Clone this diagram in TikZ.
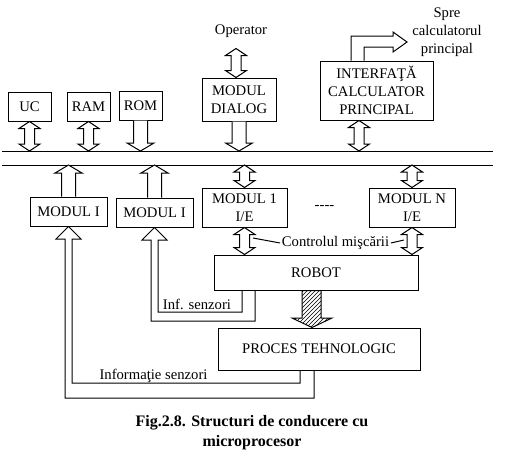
\documentclass[tikz,border=0pt]{standalone}
\usepackage{fontspec}
\setmainfont{Liberation Serif}
\usetikzlibrary{calc,patterns}

\tikzset{blk/.style={draw,fill=white}}
% hollow double arrow, from top point to bottom point
\newcommand\dblarr[2]{%
 \draw[blk] let \p1=#1, \p2=#2 in
  (\x1,\y1) -- (\x1+7.9pt,\y1-5.25pt) -- (\x1+3.75pt,\y1-5.25pt)
  -- (\x1+3.75pt,\y2+5.25pt) -- (\x1+7.9pt,\y2+5.25pt) -- (\x1,\y2)
  -- (\x1-7.9pt,\y2+5.25pt) -- (\x1-3.75pt,\y2+5.25pt)
  -- (\x1-3.75pt,\y1-5.25pt) -- (\x1-7.9pt,\y1-5.25pt) -- cycle;}
% hollow single arrow, from tail to tip
\newcommand\blkarr[2]{%
 \draw[blk] let \p1=#1, \p2=#2, \n1={(\y2>\y1)*2-1} in
  (\x1-5.25pt,\y1) -- (\x1-5.25pt,\y2-\n1*6pt) -- (\x1-10.1pt,\y2-\n1*6pt)
  -- (\x1,\y2) -- (\x1+10.1pt,\y2-\n1*6pt) -- (\x1+5.25pt,\y2-\n1*6pt)
  -- (\x1+5.25pt,\y1);}

\begin{document}
\begin{tikzpicture}[x=0.75pt,y=-0.75pt,line width=0.75pt,
 font=\fontsize{11}{13.5}\selectfont,
 box/.style={draw,inner sep=1pt,align=center},
 sz/.style 2 args={minimum width=#1*0.75pt,minimum height=#2*0.75pt}]
\useasboundingbox (0,0) rectangle (508,462);
\node[box,sz={43}{29}] (uc) at (29.5,106.5) {UC};
\node[box,sz={43}{29}] (ram) at (88.5,106.5) {RAM};
\node[box,sz={43}{29}] (rom) at (140.5,105.5) {ROM};
\node[box,sz={74}{43}] (dialog) at (239,99.5) {MODUL\\DIALOG};
\node[box,sz={113}{59}] (interf) at (376.5,90.5) {INTERFAŢĂ\\CALCULATOR\\PRINCIPAL};
\node[box,sz={77}{29}] (modI1) at (68.5,211.5) {MODUL I};
\node[box,sz={77}{29}] (modI2) at (154.5,212.5) {MODUL I};
\node[box,sz={85}{39}] (mod1) at (244.5,207.5) {MODUL 1\\I/E};
\node[box,sz={86}{39}] (modN) at (412,207.5) {MODUL N\\I/E};
\node[box,sz={204}{35}] (robot) at (316,272.5) {ROBOT};
\node[box,sz={202}{42}] (proces) at (319,349) {PROCES TEHNOLOGIC};
\node (op) at (241,31) {Operator};
\node[align=center] (spre) at (447,32) {Spre\\calculatorul\\principal};
\node (dots) at (324.5,207) {-{}-{}-{}-};
\node[inner sep=1pt] (ctrl) at (335.5,243) {Controlul mişcării};
\node (infs) at (197,304) {Inf. senzori};
\node (infos) at (153.5,376) {Informaţie senzori};
\node[font=\bfseries\fontsize{12}{14.5}\selectfont,align=center] (cap) at (252,432.5)
 {Fig.2.8. Structuri de conducere cu\\microprocesor};
% bus
\coordinate (busTl) at (2,151);
\coordinate (busTr) at (493,151);
\coordinate (busBl) at (2,165);
\coordinate (busBr) at (493,165);
\draw (busTl) -- (busTr);
\draw (busBl) -- (busBr);
% block arrows
\dblarr{(uc.south)}{(uc.south |- busTl)}
\dblarr{(ram.south)}{(ram.south |- busTl)}
\blkarr{(rom.south)}{(rom.south |- busTl)}
\blkarr{(dialog.south)}{(dialog.south |- busTl)}
\dblarr{($(dialog.north)+(-3,-29)$)}{($(dialog.north)+(-3,0)$)}
\dblarr{(359,0 |- interf.south)}{(359,0 |- busTl)}
\blkarr{(modI1.north)}{(modI1.north |- busBl)}
\blkarr{(modI2.north)}{(modI2.north |- busBl)}
\dblarr{(mod1.north |- busBl)}{(mod1.north)}
\dblarr{(modN.north |- busBl)}{(modN.north)}
\dblarr{(mod1.south)}{(mod1.south |- robot.north)}
\dblarr{(modN.south)}{(modN.south |- robot.north)}
\draw (351,0 |- interf.north) -- (351,36) -- (393,36) -- (393,32) -- (407,42)
 -- (393,52) -- (393,47) -- (364,47) -- (364,0 |- interf.north);
\draw[pattern=north east lines] (302,0 |- robot.south) -- (302,318) -- (292,318)
 -- (312,0 |- proces.north) -- (332,318) -- (321,318) -- (321,0 |- robot.south) -- cycle;
% sensor feedback
\draw (242,0 |- robot.south) -- (242,312) -- (158,312) -- (158,240) -- (167,240)
 -- (154.5,0 |- modI2.south) -- (142,240) -- (151,240) -- (151,321) -- (255,321)
 -- (255,0 |- robot.south);
\draw (300,0 |- proces.south) -- (300,383) -- (72,383) -- (72,239) -- (81,239)
 -- (68.5,0 |- modI1.south) -- (56,239) -- (65,239) -- (65,398) -- (314,398)
 -- (314,0 |- proces.south);
\draw (ctrl.west) -- (253,238);
\draw (ctrl.east) -- (404,240);
\end{tikzpicture}
\end{document}
